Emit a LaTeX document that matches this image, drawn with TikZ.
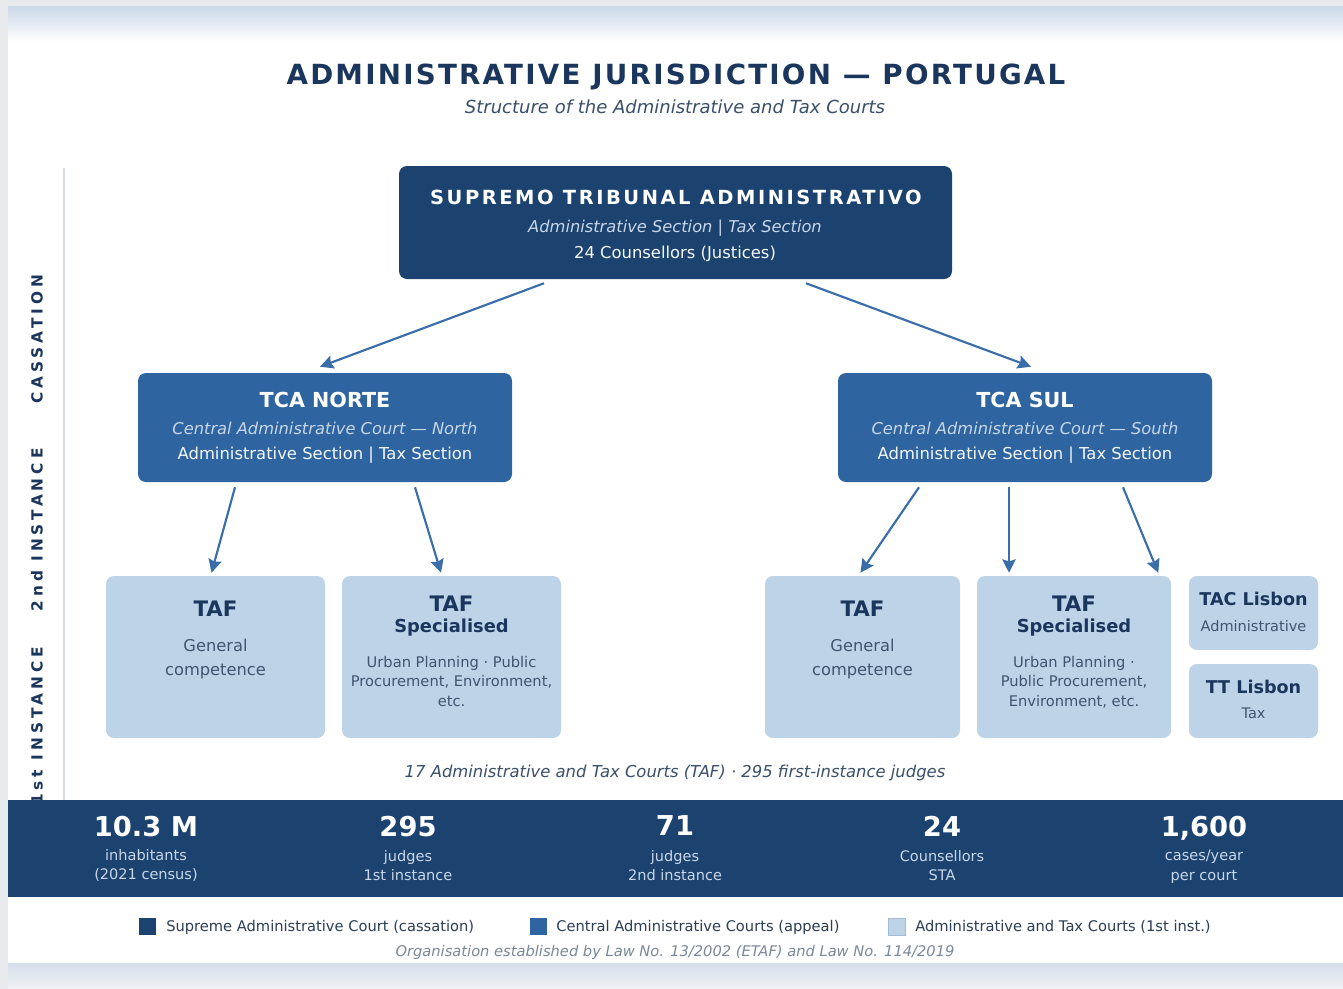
\documentclass[tikz,border=0pt]{standalone}
\usepackage{fontspec}
\setmainfont{DejaVu Sans}
\usetikzlibrary{arrows.meta,calc}
\definecolor{pagegray}{HTML}{E8EAED}
\definecolor{navy}{HTML}{1C4370}
\definecolor{midblue}{HTML}{2E64A0}
\definecolor{lightblue}{HTML}{BDD3E8}
\definecolor{titlecol}{HTML}{1B365D}
\definecolor{subcol}{HTML}{3A4F6A}
\definecolor{arrowcol}{HTML}{3A6EA8}
\definecolor{paletext}{HTML}{C8D6E8}
\definecolor{bodytext}{HTML}{3F5570}
\definecolor{legtext}{HTML}{2B3E55}
\definecolor{notecol}{HTML}{7A8899}
\definecolor{bandtop}{HTML}{CBD8E8}
\definecolor{rulecol}{HTML}{D5DDE8}
\newcommand\fsz[2]{\fontsize{#1}{#2}\selectfont}
\tikzset{
  courtbox/.style={rounded corners=6pt, inner sep=0pt},
  stabox/.style={courtbox, fill=navy},
  tcabox/.style={courtbox, fill=midblue},
  tafbox/.style={courtbox, fill=lightblue},
  txt/.style={inner sep=0pt, align=center},
  arr/.style={draw=arrowcol, line width=1.6pt, -{Stealth[length=10pt,width=10pt,inset=1.5pt]}},
  sidelabel/.style={inner sep=0pt, rotate=90, text=titlecol, font=\fsz{11.5pt}{13pt}\bfseries\addfontfeature{LetterSpace=26}},
  statval/.style={txt, text=white, text depth=0pt, font=\fsz{20.5pt}{24pt}\bfseries},
  statlab/.style={txt, text=paletext, font=\fsz{10.9pt}{14.6pt}},
  legsq/.style={inner sep=0pt, minimum size=12.75pt},
  legtxt/.style={inner sep=0pt, anchor=west, text=legtext, font=\fsz{11pt}{13pt}}
}
\begin{document}
\begin{tikzpicture}[x=0.75pt,y=-0.75pt]
\useasboundingbox (0,0) rectangle (1343,989);
% page background
\fill[pagegray] (0,0) rectangle (1343,989);
\fill[white] (8,6) rectangle (1343,963);
\shade[top color=bandtop, bottom color=white] (8,6) rectangle (1343,42);
\shade[top color=bandtop!85!white, bottom color=pagegray!60!white] (8,963) rectangle (1343,989);

% title
\node[txt, text=titlecol, text depth=0pt, font=\fsz{20.8pt}{24pt}\bfseries\addfontfeature{LetterSpace=8}] (title) at (676,74) {ADMINISTRATIVE JURISDICTION — PORTUGAL};
\node[txt, text=subcol, font=\fsz{13.5pt}{15pt}\itshape] (subtitle) at (675,107) {Structure of the Administrative and Tax Courts};

% left rule and level labels
\coordinate (ruletop) at (64,168);
\coordinate (rulebot) at (64,800);
\draw[rulecol, line width=1.5pt] (ruletop) -- (rulebot);
\node[sidelabel] (lvlcass) at (37,339) {CASSATION};
\node[sidelabel] (lvl2) at (37,530) {2nd INSTANCE};
\node[sidelabel] (lvl1) at (37,726) {1st INSTANCE};

% boxes
\node[stabox, minimum width=414.75pt, minimum height=84.75pt] (sta) at (675.5,222.5) {};
\node[tcabox, minimum width=280.5pt, minimum height=81.75pt] (tcan) at (325,427.5) {};
\node[tcabox, minimum width=280.5pt, minimum height=81.75pt] (tcas) at (1025,427.5) {};
\node[tafbox, minimum width=164.25pt, minimum height=121.5pt] (tafgn) at (215.5,657) {};
\node[tafbox, minimum width=164.25pt, minimum height=121.5pt] (tafsn) at (451.5,657) {};
\node[tafbox, minimum width=146.25pt, minimum height=121.5pt] (tafgs) at (862.5,657) {};
\node[tafbox, minimum width=145.5pt, minimum height=121.5pt] (tafss) at (1074,657) {};
\node[tafbox, minimum width=96.75pt, minimum height=55.5pt] (tac) at (1253.5,613) {};
\node[tafbox, minimum width=96.75pt, minimum height=55.5pt] (tt) at (1253.5,701) {};

% STA text
\node[txt, text=white, text depth=0pt, font=\fsz{14.6pt}{16pt}\bfseries\addfontfeature{LetterSpace=13}] (statitle) at (676,197) {SUPREMO TRIBUNAL ADMINISTRATIVO};
\node[txt, text=paletext, font=\fsz{12.2pt}{15pt}\itshape] (stasec) at (675,228) {Administrative Section | Tax Section};
\node[txt, text=white!85!lightblue, font=\fsz{12.3pt}{15pt}] (stacnt) at (675,254) {24 Counsellors (Justices)};

% TCA text
\node[txt, text=white, font=\fsz{15.5pt}{18pt}\bfseries] (tcantitle) at (325,400) {TCA NORTE};
\node[txt, text=paletext, font=\fsz{12.2pt}{15pt}\itshape] (tcansub) at (325,428) {Central Administrative Court — North};
\node[txt, text=white!85!lightblue, font=\fsz{12.3pt}{15pt}] (tcansec) at (325,455) {Administrative Section | Tax Section};
\node[txt, text=white, font=\fsz{15.5pt}{18pt}\bfseries] (tcastitle) at (1025,400) {TCA SUL};
\node[txt, text=paletext, font=\fsz{12.2pt}{15pt}\itshape] (tcassub) at (1025,428) {Central Administrative Court — South};
\node[txt, text=white!85!lightblue, font=\fsz{12.3pt}{15pt}] (tcassec) at (1025,455) {Administrative Section | Tax Section};

% TAF text
\node[txt, text=titlecol, font=\fsz{16pt}{18pt}\bfseries] (tafgnt) at (215.5,609) {TAF};
\node[txt, text=bodytext, font=\fsz{12.2pt}{17.3pt}] (tafgnb) at (215.5,659) {General\\competence};
\node[txt, text=titlecol, font=\fsz{16pt}{18pt}\bfseries] (tafsnt) at (451.5,604) {TAF};
\node[txt, text=titlecol, font=\fsz{13.4pt}{16pt}\bfseries] (tafsns) at (451.5,628) {Specialised};
\node[txt, text=bodytext, font=\fsz{11pt}{14.6pt}] (tafsnb) at (451.5,681.5) {Urban Planning · Public\\Procurement, Environment,\\etc.};
\node[txt, text=titlecol, font=\fsz{16pt}{18pt}\bfseries] (tafgst) at (862.5,609) {TAF};
\node[txt, text=bodytext, font=\fsz{12.2pt}{17.3pt}] (tafgsb) at (862.5,659) {General\\competence};
\node[txt, text=titlecol, font=\fsz{16pt}{18pt}\bfseries] (tafsst) at (1074,604) {TAF};
\node[txt, text=titlecol, font=\fsz{13.4pt}{16pt}\bfseries] (tafsss) at (1074,628) {Specialised};
\node[txt, text=bodytext, font=\fsz{11pt}{14.6pt}] (tafssb) at (1074,682) {Urban Planning ·\\Public Procurement,\\Environment, etc.};
\node[txt, text=titlecol, font=\fsz{13.2pt}{16pt}\bfseries] (tact) at (1253.5,599) {TAC Lisbon};
\node[txt, text=bodytext, font=\fsz{10.9pt}{13pt}] (tacb) at (1253.5,626) {Administrative};
\node[txt, text=titlecol, font=\fsz{13.2pt}{16pt}\bfseries] (ttt) at (1253.5,687) {TT Lisbon};
\node[txt, text=bodytext, font=\fsz{10.9pt}{13pt}] (ttb) at (1253.5,713) {Tax};

% connectors
\draw[arr] ($(sta.south)+(-131.5,4)$) -- ($(tcan.north)+(-5,-6)$);
\draw[arr] ($(sta.south)+(130.5,4)$) -- ($(tcas.north)+(6,-6)$);
\draw[arr] ($(tcan.south)+(-90,5)$) -- ($(tafgn.north)+(-4,-3)$);
\draw[arr] ($(tcan.south)+(90,5)$) -- ($(tafsn.north)+(-10.5,-3)$);
\draw[arr] ($(tcas.south)+(-106,5)$) -- ($(tafgs.north)+(-2,-3)$);
\draw[arr] ($(tcas.south)+(-16,5)$) -- ($(tafss.north)+(-65,-3)$);
\draw[arr] ($(tcas.south)+(98,5)$) -- ($(tafss.north east)+(-13,-3)$);

% footnote
\node[txt, text=subcol, font=\fsz{12.3pt}{14pt}\itshape] (tafnote) at (675,773) {17 Administrative and Tax Courts (TAF) · 295 first-instance judges};

% stats bar
\node[inner sep=0pt, fill=navy, minimum width=1001.25pt, minimum height=72.75pt] (bar) at (675.5,848.5) {};
\node[statval] (s1v) at (146,826) {10.3 M};
\node[statlab] (s1l) at (146,865.5) {inhabitants\\(2021 census)};
\node[statval] (s2v) at (408,826) {295};
\node[statlab] (s2l) at (408,865.5) {judges\\1st instance};
\node[statval] (s3v) at (675,826) {71};
\node[statlab] (s3l) at (675,865.5) {judges\\2nd instance};
\node[statval] (s4v) at (942,826) {24};
\node[statlab] (s4l) at (942,865.5) {Counsellors\\STA};
\node[statval] (s5v) at (1204,826) {1,600};
\node[statlab] (s5l) at (1204,866.5) {cases/year\\per court};

% legend
\node[legsq, fill=navy] (lg1) at (147.5,926.5) {};
\node[legtxt] (lg1t) at (166,927) {Supreme Administrative Court (cassation)};
\node[legsq, fill=midblue] (lg2) at (538,926.5) {};
\node[legtxt] (lg2t) at (556,927) {Central Administrative Courts (appeal)};
\node[legsq, fill=lightblue, draw=lightblue!80!midblue, line width=0.6pt] (lg3) at (896.5,926.5) {};
\node[legtxt] (lg3t) at (915,927) {Administrative and Tax Courts (1st inst.)};
\node[txt, text=notecol, font=\fsz{11pt}{13pt}\itshape] (lawnote) at (675,952) {Organisation established by Law No. 13/2002 (ETAF) and Law No. 114/2019};
\end{tikzpicture}
\end{document}
